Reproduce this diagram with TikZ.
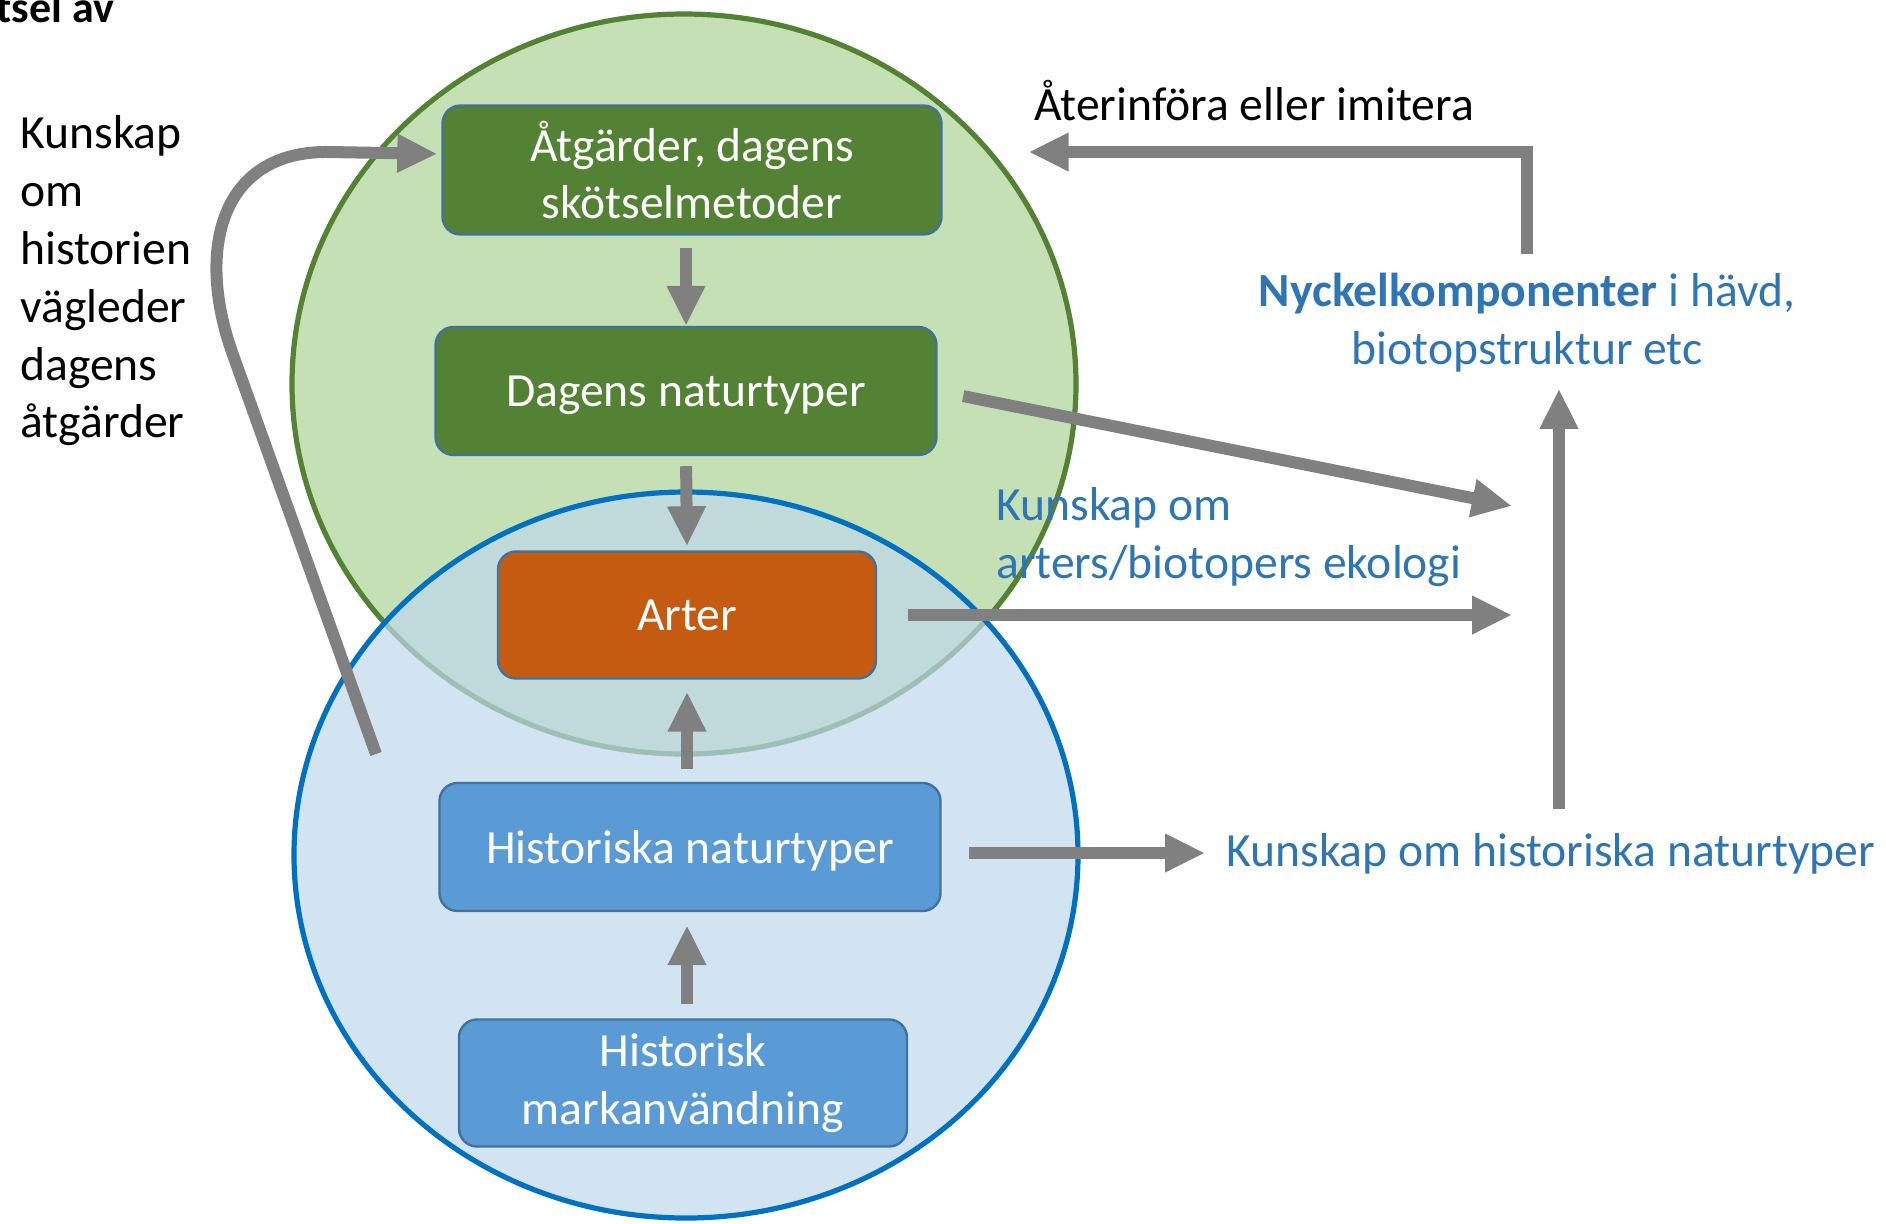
\documentclass[tikz,border=0pt]{standalone}
\usepackage{fontspec}
\setmainfont{Carlito}
\usetikzlibrary{arrows.meta}
\definecolor{greenfill}{HTML}{C5E0B4}
\definecolor{greenline}{HTML}{548235}
\definecolor{bluefill}{RGB}{191,216,236}
\definecolor{blueline}{HTML}{0070C0}
\definecolor{boxline}{HTML}{41719C}
\definecolor{boxgreen}{HTML}{548235}
\definecolor{boxblue}{HTML}{5B9BD5}
\definecolor{boxorange}{HTML}{C55A11}
\definecolor{arrowgray}{HTML}{808080}
\definecolor{textblue}{HTML}{2E75B6}
\begin{document}
\begin{tikzpicture}[x=0.5pt,y=-0.5pt,
    font=\fontsize{23.8}{28.9}\selectfont,
    box/.style={draw=boxline,line width=1.2pt,rounded corners=9pt,text=white,align=center,inner sep=0pt},
    flow/.style={draw=arrowgray,line width=6pt,-{Triangle[length=20pt,width=18pt]}},
    txt/.style={inner sep=0pt,align=left}]
\useasboundingbox (0,0) rectangle (1886,1223);

\draw[line width=2.6pt,draw=greenline,fill=greenfill] (684,384) ellipse [x radius=392, y radius=370];
\draw[line width=2.6pt,draw=blueline,fill=bluefill,fill opacity=0.7] (686,855) ellipse [x radius=392, y radius=363];

\node[box,fill=boxgreen,minimum width=249.5pt,minimum height=64.5pt] (atg) at (692,170) {Åtgärder, dagens\\skötselmetoder};
\node[box,fill=boxgreen,minimum width=250.5pt,minimum height=64pt,text depth=0pt] (dag) at (686,391) {Dagens naturtyper};
\node[box,fill=boxorange,minimum width=189pt,minimum height=63.5pt] (art) at (687,615) {Arter};
\node[box,fill=boxblue,minimum width=250.5pt,minimum height=64pt,text depth=0pt] (his) at (690,847) {Historiska naturtyper};
\node[box,fill=boxblue,minimum width=224pt,minimum height=63.5pt] (mark) at (683,1083) {Historisk\\markanvändning};

\node[txt,anchor=base west,font=\fontsize{22}{27}\selectfont\bfseries] (ttl) at (-4,22) {tsel av};
\node[txt,anchor=west] (lft) at (20,281) {Kunskap\\om\\historien\\vägleder\\dagens\\åtgärder};
\node[txt,anchor=base west] (ater) at (1034,120) {Återinföra eller imitera};
\node[txt,align=center,text=textblue] (nyck) at (1527,323) {\textbf{Nyckelkomponenter} i hävd,\\biotopstruktur etc};
\node[txt,anchor=west,text=textblue] (ekol) at (996,537) {Kunskap om\\arters/biotopers ekologi};
\node[txt,anchor=base west,text=textblue] (histk) at (1226,866) {Kunskap om historiska naturtyper};

\coordinate (e1) at (1512,506);
\coordinate (e2) at (1512,615);
\coordinate (hist0) at (376,754);

\draw[flow,shorten <=6pt] (dag.north |- atg.south) -- (dag.north);
\draw[flow,shorten <=5pt,shorten >=2pt] (dag.south) -- (art.north);
\draw[flow,shorten <=6.5pt,shorten >=6pt] (art.south |- his.north) -- (art.south);
\draw[flow,shorten <=7pt,shorten >=6.5pt] (art.south |- mark.north) -- (art.south |- his.south);

\draw[flow,shorten <=13pt] (dag.east) -- (e1);
\draw[flow,shorten <=15.5pt] (art.east) -- (e2);
\draw[flow,shorten <=13.5pt,shorten >=10.5pt] ([yshift=-3pt]his.east) -- ([yshift=-3pt]his.east -| histk.west);
\draw[flow,shorten <=12pt,shorten >=8pt] ([xshift=16pt]nyck.south |- histk.north) -- ([xshift=16pt]nyck.south);
\draw[flow,shorten <=9.5pt,shorten >=43pt] (nyck.north) |- ([yshift=9pt]atg.east);

\draw[flow,shorten >=2pt] (hist0) -- (232,352) .. controls (196,250) and (220,150) .. (330,152) -- ([yshift=8pt]atg.west);
\end{tikzpicture}
\end{document}
